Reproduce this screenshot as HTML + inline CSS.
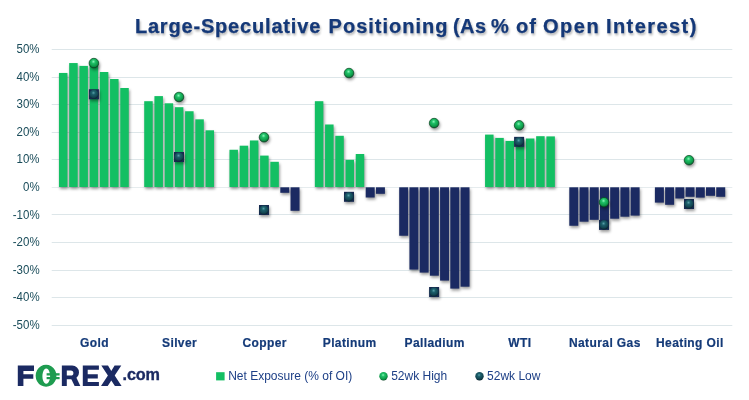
<!DOCTYPE html>
<html><head><meta charset="utf-8">
<style>
html,body{margin:0;padding:0;background:#fff;}
body{width:749px;height:400px;overflow:hidden;}
#wrap{will-change:transform;width:749px;height:400px;}
svg{display:block;}
text{font-family:"Liberation Sans",sans-serif;}
</style></head><body>
<div id="wrap"><svg width="749" height="400" viewBox="0 0 749 400">
<defs>
<filter id="sh" x="-30%" y="-30%" width="160%" height="160%" color-interpolation-filters="sRGB">
<feGaussianBlur in="SourceAlpha" stdDeviation="1.5"/>
<feOffset dx="0.7" dy="2.2" result="b"/>
<feComponentTransfer><feFuncA type="linear" slope="0.4"/></feComponentTransfer>
<feMerge><feMergeNode/><feMergeNode in="SourceGraphic"/></feMerge>
</filter>
<filter id="tsh" x="-5%" y="-30%" width="110%" height="160%" color-interpolation-filters="sRGB">
<feGaussianBlur in="SourceAlpha" stdDeviation="1"/>
<feOffset dx="1" dy="1.5" result="b"/>
<feComponentTransfer><feFuncA type="linear" slope="0.3"/></feComponentTransfer>
<feMerge><feMergeNode/><feMergeNode in="SourceGraphic"/></feMerge>
</filter>
<radialGradient id="gH" cx="0.45" cy="0.35" r="0.65">
<stop offset="0" stop-color="#8af7b8"/>
<stop offset="0.3" stop-color="#20c068"/>
<stop offset="0.7" stop-color="#0f9e4b"/>
<stop offset="0.9" stop-color="#0b7a3c"/>
<stop offset="1" stop-color="#064020"/>
</radialGradient>
<radialGradient id="gL" cx="0.45" cy="0.35" r="0.65">
<stop offset="0" stop-color="#58a0a8"/>
<stop offset="0.3" stop-color="#1c5f6b"/>
<stop offset="0.75" stop-color="#12434f"/>
<stop offset="1" stop-color="#08222c"/>
</radialGradient>
</defs>

<rect x="51.7" y="49" width="680.6" height="1" fill="#dde6e9"/>
<rect x="51.7" y="77" width="680.6" height="1" fill="#dde6e9"/>
<rect x="51.7" y="104" width="680.6" height="1" fill="#dde6e9"/>
<rect x="51.7" y="132" width="680.6" height="1" fill="#dde6e9"/>
<rect x="51.7" y="159" width="680.6" height="1" fill="#dde6e9"/>
<rect x="51.7" y="187" width="680.6" height="1" fill="#e6ecee"/>
<rect x="51.7" y="214" width="680.6" height="1" fill="#dde6e9"/>
<rect x="51.7" y="242" width="680.6" height="1" fill="#dde6e9"/>
<rect x="51.7" y="270" width="680.6" height="1" fill="#dde6e9"/>
<rect x="51.7" y="297" width="680.6" height="1" fill="#dde6e9"/>
<rect x="51.7" y="325" width="680.6" height="1" fill="#dde6e9"/>
<text transform="translate(39.6,52.90) scale(0.92,1)" font-size="12.5" fill="#1a4c5a" text-anchor="end">50%</text>
<text transform="translate(39.6,80.50) scale(0.92,1)" font-size="12.5" fill="#1a4c5a" text-anchor="end">40%</text>
<text transform="translate(39.6,108.10) scale(0.92,1)" font-size="12.5" fill="#1a4c5a" text-anchor="end">30%</text>
<text transform="translate(39.6,135.70) scale(0.92,1)" font-size="12.5" fill="#1a4c5a" text-anchor="end">20%</text>
<text transform="translate(39.6,163.30) scale(0.92,1)" font-size="12.5" fill="#1a4c5a" text-anchor="end">10%</text>
<text transform="translate(39.6,190.90) scale(0.92,1)" font-size="12.5" fill="#1a4c5a" text-anchor="end">0%</text>
<text transform="translate(39.6,218.50) scale(0.92,1)" font-size="12.5" fill="#1a4c5a" text-anchor="end">-10%</text>
<text transform="translate(39.6,246.10) scale(0.92,1)" font-size="12.5" fill="#1a4c5a" text-anchor="end">-20%</text>
<text transform="translate(39.6,273.70) scale(0.92,1)" font-size="12.5" fill="#1a4c5a" text-anchor="end">-30%</text>
<text transform="translate(39.6,301.30) scale(0.92,1)" font-size="12.5" fill="#1a4c5a" text-anchor="end">-40%</text>
<text transform="translate(39.6,328.90) scale(0.92,1)" font-size="12.5" fill="#1a4c5a" text-anchor="end">-50%</text>
<g filter="url(#sh)">
<rect x="58.95" y="72.95" width="8.5" height="114.05" fill="#13bf63"/>
<rect x="69.17" y="63.05" width="8.5" height="123.95" fill="#13bf63"/>
<rect x="79.39" y="65.90" width="8.5" height="121.10" fill="#13bf63"/>
<rect x="89.61" y="64.00" width="8.5" height="123.00" fill="#13bf63"/>
<rect x="99.83" y="72.00" width="8.5" height="115.00" fill="#13bf63"/>
<rect x="110.05" y="79.00" width="8.5" height="108.00" fill="#13bf63"/>
<rect x="120.27" y="88.00" width="8.5" height="99.00" fill="#13bf63"/>
<rect x="144.21" y="101.20" width="8.5" height="85.80" fill="#13bf63"/>
<rect x="154.43" y="96.10" width="8.5" height="90.90" fill="#13bf63"/>
<rect x="164.65" y="103.30" width="8.5" height="83.70" fill="#13bf63"/>
<rect x="174.87" y="107.20" width="8.5" height="79.80" fill="#13bf63"/>
<rect x="185.09" y="111.25" width="8.5" height="75.75" fill="#13bf63"/>
<rect x="195.31" y="119.35" width="8.5" height="67.65" fill="#13bf63"/>
<rect x="205.53" y="130.30" width="8.5" height="56.70" fill="#13bf63"/>
<rect x="229.45" y="149.76" width="8.5" height="37.24" fill="#13bf63"/>
<rect x="239.67" y="145.70" width="8.5" height="41.30" fill="#13bf63"/>
<rect x="249.89" y="140.47" width="8.5" height="46.53" fill="#13bf63"/>
<rect x="260.11" y="155.60" width="8.5" height="31.40" fill="#13bf63"/>
<rect x="270.33" y="161.80" width="8.5" height="25.20" fill="#13bf63"/>
<rect x="280.30" y="187.30" width="9.0" height="5.50" fill="#1b2a62"/>
<rect x="290.52" y="187.30" width="9.0" height="23.50" fill="#1b2a62"/>
<rect x="314.85" y="101.20" width="8.5" height="85.80" fill="#13bf63"/>
<rect x="325.07" y="124.50" width="8.5" height="62.50" fill="#13bf63"/>
<rect x="335.29" y="135.80" width="8.5" height="51.20" fill="#13bf63"/>
<rect x="345.51" y="159.80" width="8.5" height="27.20" fill="#13bf63"/>
<rect x="355.73" y="154.00" width="8.5" height="33.00" fill="#13bf63"/>
<rect x="365.70" y="187.30" width="9.0" height="10.20" fill="#1b2a62"/>
<rect x="375.92" y="187.30" width="9.0" height="6.50" fill="#1b2a62"/>
<rect x="399.20" y="187.30" width="9.0" height="48.45" fill="#1b2a62"/>
<rect x="409.42" y="187.30" width="9.0" height="82.30" fill="#1b2a62"/>
<rect x="419.64" y="187.30" width="9.0" height="85.30" fill="#1b2a62"/>
<rect x="429.86" y="187.30" width="9.0" height="88.40" fill="#1b2a62"/>
<rect x="440.08" y="187.30" width="9.0" height="93.30" fill="#1b2a62"/>
<rect x="450.30" y="187.30" width="9.0" height="101.30" fill="#1b2a62"/>
<rect x="460.52" y="187.30" width="9.0" height="99.40" fill="#1b2a62"/>
<rect x="485.05" y="134.60" width="8.5" height="52.40" fill="#13bf63"/>
<rect x="495.27" y="137.90" width="8.5" height="49.10" fill="#13bf63"/>
<rect x="505.49" y="140.90" width="8.5" height="46.10" fill="#13bf63"/>
<rect x="515.71" y="139.50" width="8.5" height="47.50" fill="#13bf63"/>
<rect x="525.93" y="138.50" width="8.5" height="48.50" fill="#13bf63"/>
<rect x="536.15" y="136.20" width="8.5" height="50.80" fill="#13bf63"/>
<rect x="546.37" y="136.40" width="8.5" height="50.60" fill="#13bf63"/>
<rect x="569.30" y="187.30" width="9.0" height="38.46" fill="#1b2a62"/>
<rect x="579.52" y="187.30" width="9.0" height="34.40" fill="#1b2a62"/>
<rect x="589.74" y="187.30" width="9.0" height="32.50" fill="#1b2a62"/>
<rect x="599.96" y="187.30" width="9.0" height="34.70" fill="#1b2a62"/>
<rect x="610.18" y="187.30" width="9.0" height="31.40" fill="#1b2a62"/>
<rect x="620.40" y="187.30" width="9.0" height="29.40" fill="#1b2a62"/>
<rect x="630.62" y="187.30" width="9.0" height="28.30" fill="#1b2a62"/>
<rect x="654.90" y="187.30" width="9.0" height="15.30" fill="#1b2a62"/>
<rect x="665.12" y="187.30" width="9.0" height="17.50" fill="#1b2a62"/>
<rect x="675.34" y="187.30" width="9.0" height="11.20" fill="#1b2a62"/>
<rect x="685.56" y="187.30" width="9.0" height="9.50" fill="#1b2a62"/>
<rect x="695.78" y="187.30" width="9.0" height="10.30" fill="#1b2a62"/>
<rect x="706.00" y="187.30" width="9.0" height="8.50" fill="#1b2a62"/>
<rect x="716.22" y="187.30" width="9.0" height="9.50" fill="#1b2a62"/>
</g>
<g filter="url(#sh)">
<rect x="88.90" y="89.25" width="10" height="10" fill="#15294f"/>
<circle cx="93.90" cy="94.25" r="4.6" fill="url(#gL)"/>
<circle cx="93.90" cy="63.10" r="4.8" fill="url(#gH)" stroke="#08431f" stroke-width="0.7"/>
<rect x="174.00" y="152.00" width="10" height="10" fill="#15294f"/>
<circle cx="179.00" cy="157.00" r="4.6" fill="url(#gL)"/>
<circle cx="179.00" cy="97.00" r="4.8" fill="url(#gH)" stroke="#08431f" stroke-width="0.7"/>
<rect x="259.00" y="205.00" width="10" height="10" fill="#15294f"/>
<circle cx="264.00" cy="210.00" r="4.6" fill="url(#gL)"/>
<circle cx="264.00" cy="137.24" r="4.8" fill="url(#gH)" stroke="#08431f" stroke-width="0.7"/>
<rect x="344.00" y="191.80" width="10" height="10" fill="#15294f"/>
<circle cx="349.00" cy="196.80" r="4.6" fill="url(#gL)"/>
<circle cx="349.00" cy="73.05" r="4.8" fill="url(#gH)" stroke="#08431f" stroke-width="0.7"/>
<rect x="429.10" y="287.00" width="10" height="10" fill="#15294f"/>
<circle cx="434.10" cy="292.00" r="4.6" fill="url(#gL)"/>
<circle cx="434.10" cy="123.10" r="4.8" fill="url(#gH)" stroke="#08431f" stroke-width="0.7"/>
<rect x="514.10" y="136.85" width="10" height="10" fill="#15294f"/>
<circle cx="519.10" cy="141.85" r="4.6" fill="url(#gL)"/>
<circle cx="519.10" cy="125.30" r="4.8" fill="url(#gH)" stroke="#08431f" stroke-width="0.7"/>
<rect x="599.00" y="219.90" width="10" height="10" fill="#15294f"/>
<circle cx="604.00" cy="224.90" r="4.6" fill="url(#gL)"/>
<circle cx="604.00" cy="202.24" r="4.8" fill="url(#gH)" stroke="#08431f" stroke-width="0.7"/>
<rect x="684.00" y="199.00" width="10" height="10" fill="#15294f"/>
<circle cx="689.00" cy="204.00" r="4.6" fill="url(#gL)"/>
<circle cx="689.00" cy="160.20" r="4.8" fill="url(#gH)" stroke="#08431f" stroke-width="0.7"/>
</g>
<text x="94.50" y="346.8" font-size="12" font-weight="bold" fill="#143a78" text-anchor="middle" letter-spacing="0.4" stroke="#143a78" stroke-width="0.2">Gold</text>
<text x="179.56" y="346.8" font-size="12" font-weight="bold" fill="#143a78" text-anchor="middle" letter-spacing="0.4" stroke="#143a78" stroke-width="0.2">Silver</text>
<text x="264.62" y="346.8" font-size="12" font-weight="bold" fill="#143a78" text-anchor="middle" letter-spacing="0.4" stroke="#143a78" stroke-width="0.2">Copper</text>
<text x="349.68" y="346.8" font-size="12" font-weight="bold" fill="#143a78" text-anchor="middle" letter-spacing="0.4" stroke="#143a78" stroke-width="0.2">Platinum</text>
<text x="434.74" y="346.8" font-size="12" font-weight="bold" fill="#143a78" text-anchor="middle" letter-spacing="0.4" stroke="#143a78" stroke-width="0.2">Palladium</text>
<text x="519.80" y="346.8" font-size="12" font-weight="bold" fill="#143a78" text-anchor="middle" letter-spacing="0.4" stroke="#143a78" stroke-width="0.2">WTI</text>
<text x="604.86" y="346.8" font-size="12" font-weight="bold" fill="#143a78" text-anchor="middle" letter-spacing="0.4" stroke="#143a78" stroke-width="0.2">Natural Gas</text>
<text x="689.92" y="346.8" font-size="12" font-weight="bold" fill="#143a78" text-anchor="middle" letter-spacing="0.4" stroke="#143a78" stroke-width="0.2">Heating Oil</text>
<g filter="url(#tsh)" font-size="20" font-weight="bold" fill="#143878" stroke="#143878" stroke-width="0.25">
<text x="134.90" y="32.8" letter-spacing="0.819">Large-Speculative</text>
<text x="328.60" y="32.8" letter-spacing="0.990">Positioning</text>
<text x="452.90" y="32.8" letter-spacing="0.500">(As</text>
<text x="491.00" y="32.8" letter-spacing="0.000">%</text>
<text x="515.90" y="32.8" letter-spacing="1.200">of</text>
<text x="543.10" y="32.8" letter-spacing="1.467">Open</text>
<text x="605.90" y="32.8" letter-spacing="1.438">Interest)</text>
</g>
<rect x="216.1" y="372.2" width="8.5" height="8.2" fill="#13bf63"/>
<text x="228.2" y="379.9" font-size="12" fill="#1d3f86">Net Exposure (% of OI)</text>
<circle cx="383.5" cy="376.3" r="4.2" fill="url(#gH)"/>
<text x="391.2" y="379.9" font-size="12" fill="#1d3f86">52wk High</text>
<circle cx="479.5" cy="376.3" r="4.2" fill="url(#gL)"/>
<text x="487.1" y="379.9" font-size="12" fill="#1d3f86">52wk Low</text>
<g id="logo">
<path fill="#1b2a62" d="M17.8,365.5H34V371.1H23.4V374.2H33.3V378.8H23.4V385.9H17.8Z"/>
<path fill="#1e9c50" fill-rule="evenodd" d="M46.05,364.8a10.4,11 0 1,0 0.001,0Z M46.25,368.6a3.85,7.55 0 1,0 0.001,0Z"/>
<rect x="46.6" y="373.2" width="13" height="2.3" fill="#1e9c50"/><rect x="46.6" y="377" width="13" height="2.2" fill="#1e9c50"/>
<path fill="#1b2a62" fill-rule="evenodd" d="M61.85,365.6H72.2A6.8,6.8 0 0 1 72.2,379.2H66.8V385.9H61.85Z M66.8,370.4H70.8A2.6,2.6 0 0 1 70.8,375.6H66.8Z"/>
<path fill="#1b2a62" d="M70.6,377.5H76.3L80.3,385.9H74.6Z"/>
<path fill="#1b2a62" d="M82.8,365.6H98.9V369.7H87.7V374.25H97.8V378.4H87.7V381.9H98.9V385.9H82.8Z"/>
<path fill="#1b2a62" d="M101.3,365.6H108L111.3,371.1L114.6,365.6H121.3L114.7,375.6L121.6,385.9H114.9L111.3,380.5L107.7,385.9H101L107.9,375.6Z"/>
<text x="122.5" y="380.4" font-size="16.2" font-weight="bold" fill="#1b2a62" stroke="#1b2a62" stroke-width="0.35" letter-spacing="-0.1">.com</text>
</g>
</svg></div></body></html>
